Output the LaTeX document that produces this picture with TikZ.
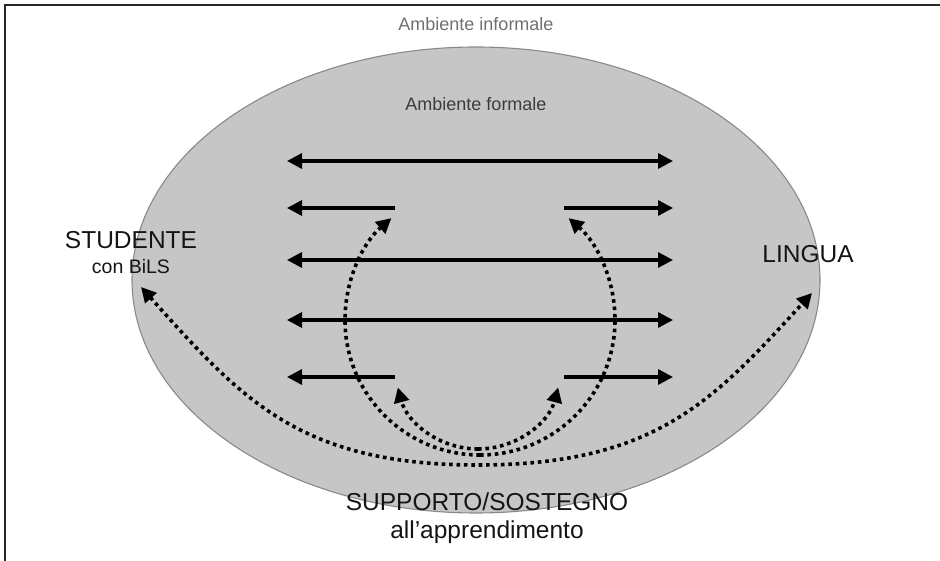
\documentclass[tikz,border=0pt]{standalone}
\usepackage{fontspec}
\setmainfont{Liberation Sans}
\usetikzlibrary{arrows.meta,shapes.geometric}
\definecolor{ellfill}{HTML}{C6C6C6}
\definecolor{ellline}{HTML}{8A8A8A}
\definecolor{lightlbl}{HTML}{707070}
\definecolor{darklbl}{HTML}{3C3C3C}
\tikzset{
  framelines/.style={line width=1.6pt, draw=black!85},
  envshape/.style={fill=ellfill, draw=ellline, line width=1.1pt},
  flow/.style={line width=3.3pt, black, -{Triangle[length=15pt,width=15pt]}},
  flowboth/.style={line width=3.3pt, black, {Triangle[length=15pt,width=15pt]}-{Triangle[length=15pt,width=15pt]}},
  support/.style={line width=3.6pt, black, line cap=butt, dash pattern=on 3.6pt off 3.8pt},
  supporttip/.style={support, -{Triangle[length=15pt,width=15pt]}},
  supportboth/.style={support, {Triangle[length=15pt,width=15pt]}-{Triangle[length=15pt,width=15pt]}},
  envlbl/.style={font=\fontsize{18}{20}\selectfont, anchor=base},
  biglbl/.style={font=\fontsize{24.5}{28}\selectfont, text=black!92, anchor=base, inner sep=0pt},
  smalllbl/.style={font=\fontsize{19.5}{22}\selectfont, text=black!92, anchor=base, inner sep=0pt}
}
\begin{document}
\begin{tikzpicture}[x=1pt,y=-1pt]
\useasboundingbox (0,0) rectangle (940,561);
% frame
\coordinate (fTR) at (940,5);
\coordinate (fTL) at (5,5);
\coordinate (fBL) at (5,561);
\draw[framelines] (fTR) -- (fTL) -- (fBL);
% formal environment
\node[envshape, ellipse, minimum width=688pt, minimum height=466pt, inner sep=0pt] (formal) at (476,280) {};
\node[envlbl, text=lightlbl] (informlbl) at (476,31) {Ambiente informale};
\node[envlbl, text=darklbl] (formlbl) at (476,111) {Ambiente formale};
% labels
\node[biglbl] (studente) at (131,249) {STUDENTE};
\node[smalllbl] (bils) at (131,274) {con BiLS};
\node[biglbl] (lingua) at (808,263) {LINGUA};
\node[biglbl] (supporto) at (487,510) {SUPPORTO/SOSTEGNO};
\node[biglbl] (appr) at (487,538) {all’apprendimento};
% straight arrows
\coordinate (L1) at (287,161); \coordinate (R1) at (673,161);
\coordinate (L2) at (287,208); \coordinate (M2l) at (395,208);
\coordinate (M2r) at (564,208); \coordinate (R2) at (673,208);
\coordinate (L3) at (287,260); \coordinate (R3) at (673,260);
\coordinate (L4) at (287,320); \coordinate (R4) at (673,320);
\coordinate (L5) at (287,377); \coordinate (M5l) at (395,377);
\coordinate (M5r) at (564,377); \coordinate (R5) at (673,377);
\draw[flowboth] (L1) -- (R1);
\draw[flow] (M2l) -- (L2);
\draw[flow] (M2r) -- (R2);
\draw[flowboth] (L3) -- (R3);
\draw[flowboth] (L4) -- (R4);
\draw[flow] (M5l) -- (L5);
\draw[flow] (M5r) -- (R5);
% dotted support arrows
\coordinate (outL) at (141,287);
\coordinate (outB) at (478,465);
\coordinate (outR) at (812,293);
\draw[supportboth] (outL) .. controls (242,400) and (300,465) .. (outB)
   .. controls (656,465) and (714,400) .. (outR);
\coordinate (loopB) at (480,455);
\draw[supporttip] (loopB) arc[start angle=270, end angle=131, radius=135pt];
\draw[supporttip] (loopB) arc[start angle=-90, end angle=49, radius=135pt];
\coordinate (innB) at (478,449);
\draw[supporttip] (innB) arc[start angle=270, end angle=195, radius=83pt];
\draw[supporttip] (innB) arc[start angle=-90, end angle=-15, radius=83pt];
\end{tikzpicture}
\end{document}
